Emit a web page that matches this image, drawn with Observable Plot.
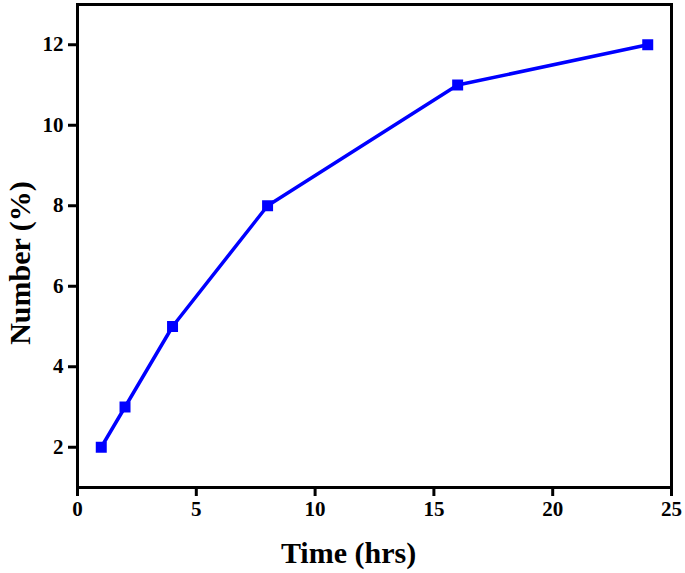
<!DOCTYPE html>
<html>
<head>
<meta charset="utf-8">
<script src="https://cdn.jsdelivr.net/npm/d3@7"></script>
<script src="https://cdn.jsdelivr.net/npm/@observablehq/plot@0.6"></script>
<style>
  body { margin: 0; background: #fff; }
  #chart svg { display: block; }
  #chart svg g[aria-label="x-axis tick label"] text,
  #chart svg g[aria-label="y-axis tick label"] text { font-size: 21px; }
</style>
</head>
<body>
<div id="chart"></div>
<script>
const timeHrs = [1, 2, 4, 8, 16, 24];
const numberPct = [2, 3, 5, 8, 11, 12];
const xTicks = [0, 5, 10, 15, 20, 25];
const yTicks = [2, 4, 6, 8, 10, 12];
const xLabel = "Time (hrs)";
const yLabel = "Number (%)";

const data = timeHrs.map((t, i) => ({t, v: numberPct[i]}));

const chart = Plot.plot({
  width: 685,
  height: 573,
  marginLeft: 77,
  marginTop: 4,
  marginRight: 14,
  marginBottom: 86,
  style: {fontFamily: "'Liberation Serif', 'Times New Roman', serif", fontWeight: "bold", fontSize: "21px", color: "#000", background: "#fff", overflow: "visible"},
  x: {domain: [0, 25]},
  y: {domain: [1, 13]},
  marks: [
    Plot.frame({stroke: "#000", strokeWidth: 3}),
    Plot.line(data, {x: "t", y: "v", stroke: "#0000ff", strokeWidth: 3.5}),
    Plot.dot(data, {x: "t", y: "v", symbol: "square", r: 6.2, fill: "#0000ff", stroke: "none"}),
    Plot.axisX({ticks: xTicks, tickSize: 9, tickPadding: 5, strokeWidth: 3, label: null}),
    Plot.axisY({ticks: yTicks, tickSize: 9, tickPadding: 5, strokeWidth: 3, label: null}),
    Plot.text([xLabel], {frameAnchor: "bottom", dx: -26, dy: 66, text: d => d, fontSize: 30, fontWeight: "bold", fill: "#000", textAnchor: "middle", lineAnchor: "middle"}),
    Plot.text([yLabel], {frameAnchor: "left", dx: -57, dy: 17, rotate: -90, text: d => d, fontSize: 30, fontWeight: "bold", fill: "#000", textAnchor: "middle", lineAnchor: "middle"})
  ]
});
document.getElementById("chart").appendChild(chart);
</script>
</body>
</html>
